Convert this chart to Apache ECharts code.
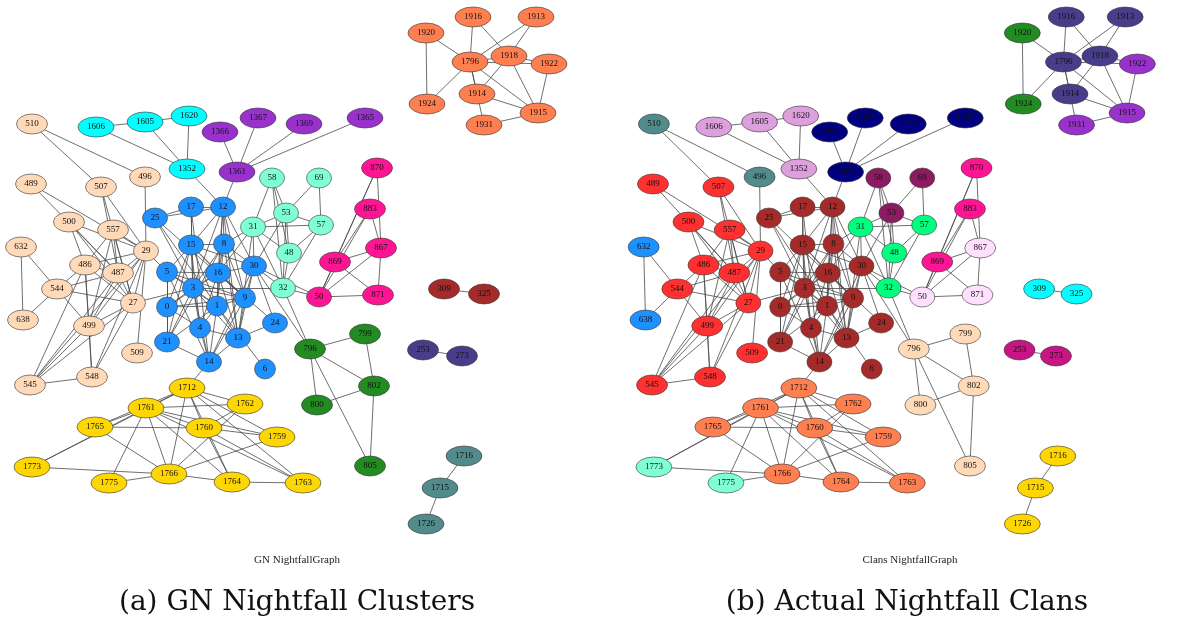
<!DOCTYPE html>
<html style="height: 100%">
<head>
<meta charset="utf-8">
</head>
<body style="height: 100%;width: 100%;margin: 0;background: #fff;">
<div id="container" style="height: 618px;width: 1185px;"></div>
<script type="text/javascript" src="https://cdn.jsdelivr.net/npm/echarts@6/dist/echarts.min.js"></script>
<script type="text/javascript">
// node ids and their layout positions (same layout in both panels)
var nodeNames = ['510', '496', '1606', '1605', '1620', '1352', '1366', '1367', '1369', '1365', '1361',
    '489', '507', '500', '557', '29', '632', '486', '487', '544', '27', '638', '499', '509', '545', '548',
    '25', '17', '12', '15', '8', '5', '16', '3', '0', '1', '9', '30', '4', '21', '14', '13', '24', '6',
    '58', '69', '53', '31', '57', '48', '32', '50', '869', '870', '883', '867', '871',
    '796', '799', '802', '800', '805', '309', '325', '253', '273', '1716', '1715', '1726',
    '1920', '1916', '1913', '1796', '1918', '1922', '1924', '1914', '1915', '1931',
    '1712', '1761', '1762', '1765', '1760', '1759', '1773', '1766', '1775', '1764', '1763'];
var nodeX = [32, 145, 96, 145, 189, 187, 220, 258, 304, 365, 237,
    31, 101, 69, 113, 146, 21, 85, 118, 57, 133, 23, 89, 137, 30, 92,
    155, 191, 223, 191, 224, 167, 218, 193, 167, 217, 245, 254, 200, 167, 209, 238, 275, 265,
    272, 319, 286, 253, 321, 289, 283, 319, 335, 377, 370, 381, 378,
    310, 365, 374, 317, 370, 444, 484, 423, 462, 464, 440, 426,
    426, 473, 536, 470, 509, 549, 427, 477, 538, 484,
    187, 146, 245, 95, 204, 277, 32, 169, 109, 232, 303];
var nodeY = [124, 177, 127, 122, 116, 169, 132, 118, 124, 118, 172,
    184, 187, 222, 230, 251, 247, 265, 273, 289, 303, 320, 326, 353, 385, 377,
    218, 207, 207, 245, 244, 272, 273, 288, 307, 306, 298, 266, 328, 342, 362, 338, 323, 369,
    178, 178, 213, 227, 225, 253, 288, 297, 262, 168, 209, 248, 295,
    349, 334, 386, 405, 466, 289, 294, 350, 356, 456, 488, 524,
    33, 17, 17, 62, 56, 64, 104, 94, 113, 125,
    388, 408, 404, 427, 428, 437, 467, 474, 483, 482, 483];

var edges = [
    ['510', '496'], ['510', '507'],
    ['1606', '1605'], ['1605', '1620'], ['1606', '1352'], ['1605', '1352'], ['1620', '1352'], ['1352', '12'],
    ['1366', '1361'], ['1367', '1361'], ['1369', '1361'], ['1365', '1361'], ['1361', '12'],
    ['496', '29'], ['489', '29'], ['489', '487'],
    ['500', '29'], ['500', '486'], ['500', '487'], ['500', '27'],
    ['507', '29'], ['507', '487'], ['507', '27'],
    ['557', '29'], ['557', '486'], ['557', '487'], ['557', '27'], ['557', '499'],
    ['29', '486'], ['29', '487'], ['29', '27'], ['29', '499'], ['29', '545'], ['29', '548'], ['29', '509'], ['29', '5'],
    ['486', '544'], ['486', '487'], ['486', '27'], ['486', '548'], ['486', '545'], ['486', '499'],
    ['487', '544'], ['487', '27'], ['487', '499'], ['487', '545'],
    ['544', '632'], ['544', '638'], ['544', '27'], ['544', '499'], ['632', '638'],
    ['27', '499'], ['27', '545'], ['27', '548'], ['27', '3'],
    ['545', '548'], ['545', '499'], ['548', '499'],
    ['25', '17'], ['25', '12'], ['25', '3'], ['25', '1'], ['25', '9'],
    ['12', '17'], ['12', '15'], ['12', '8'], ['12', '16'], ['12', '3'], ['12', '1'], ['12', '13'], ['12', '9'], ['12', '30'],
    ['17', '15'], ['17', '14'], ['17', '3'],
    ['15', '5'], ['15', '3'], ['15', '16'], ['15', '1'], ['15', '9'], ['15', '4'], ['15', '0'], ['15', '21'], ['15', '8'], ['15', '30'],
    ['8', '16'], ['8', '3'], ['8', '1'], ['8', '9'], ['8', '21'], ['8', '30'], ['8', '13'],
    ['5', '3'], ['5', '16'], ['5', '0'], ['5', '21'], ['5', '1'], ['5', '9'], ['5', '14'],
    ['16', '3'], ['16', '1'], ['16', '9'], ['16', '4'], ['16', '0'], ['16', '13'], ['16', '30'], ['16', '24'],
    ['3', '0'], ['3', '1'], ['3', '9'], ['3', '4'], ['3', '21'], ['3', '14'], ['3', '13'], ['3', '32'],
    ['0', '1'], ['0', '21'], ['0', '4'], ['0', '9'],
    ['1', '9'], ['1', '4'], ['1', '21'], ['1', '14'], ['1', '13'], ['1', '6'],
    ['9', '13'], ['9', '14'], ['9', '30'],
    ['30', '31'], ['30', '32'], ['30', '24'], ['30', '13'], ['30', '14'], ['30', '53'], ['30', '50'], ['30', '796'],
    ['4', '14'], ['4', '13'], ['21', '14'], ['14', '13'], ['13', '24'], ['13', '31'], ['14', '1712'],
    ['31', '58'], ['31', '53'], ['31', '57'], ['31', '48'], ['31', '32'], ['31', '8'], ['31', '16'],
    ['58', '53'], ['58', '48'], ['58', '32'], ['69', '53'], ['69', '57'],
    ['53', '57'], ['53', '48'], ['53', '32'], ['57', '48'], ['57', '32'], ['48', '32'],
    ['32', '50'], ['32', '796'],
    ['50', '869'], ['50', '883'], ['50', '870'], ['50', '867'], ['50', '871'],
    ['869', '867'], ['869', '871'], ['869', '883'], ['869', '870'],
    ['870', '867'], ['883', '867'], ['867', '871'],
    ['796', '799'], ['796', '802'], ['796', '800'], ['796', '805'], ['799', '802'], ['800', '802'], ['802', '805'],
    ['309', '325'], ['253', '273'], ['1716', '1715'], ['1715', '1726'],
    ['1920', '1796'], ['1920', '1924'], ['1916', '1796'], ['1916', '1918'], ['1913', '1796'], ['1913', '1918'],
    ['1796', '1918'], ['1796', '1922'], ['1796', '1924'], ['1796', '1914'], ['1796', '1915'], ['1796', '1931'],
    ['1918', '1922'], ['1918', '1914'], ['1918', '1915'], ['1922', '1915'], ['1914', '1915'], ['1931', '1915'],
    ['1712', '1761'], ['1712', '1765'], ['1712', '1773'], ['1712', '1762'], ['1712', '1760'], ['1712', '1759'],
    ['1712', '1766'], ['1712', '1764'], ['1712', '1763'],
    ['1761', '1762'], ['1761', '1765'], ['1761', '1760'], ['1761', '1759'], ['1761', '1766'], ['1761', '1775'],
    ['1761', '1764'], ['1761', '1763'], ['1761', '1773'],
    ['1765', '1760'], ['1765', '1766'], ['1762', '1760'], ['1762', '1766'],
    ['1760', '1759'], ['1760', '1763'], ['1760', '1764'], ['1759', '1766'],
    ['1773', '1766'], ['1775', '1766'], ['1766', '1764'], ['1764', '1763']
];

// GN clusters (left) and actual clans (right)
var gnClusters = [
    ['510', '496', '489', '507', '500', '557', '29', '632', '486', '487', '544', '27', '638', '499', '509', '545', '548'],
    ['1606', '1605', '1620', '1352'],
    ['1366', '1367', '1369', '1365', '1361'],
    ['25', '17', '12', '15', '8', '5', '16', '3', '0', '1', '9', '30', '4', '21', '14', '13', '24', '6'],
    ['58', '69', '53', '31', '57', '48', '32'],
    ['50', '869', '870', '883', '867', '871'],
    ['309', '325'],
    ['253', '273'],
    ['796', '799', '802', '800', '805'],
    ['1712', '1761', '1762', '1765', '1760', '1759', '1773', '1766', '1775', '1764', '1763'],
    ['1920', '1916', '1913', '1796', '1918', '1922', '1924', '1914', '1915', '1931'],
    ['1716', '1715', '1726']
];
var gnColors = ['#ffdab9', '#00ffff', '#9932cc', '#1e90ff', '#7fffd4', '#ff1493',
    '#a52a2a', '#483d8b', '#228b22', '#ffd700', '#ff7f50', '#528b8b'];

var clans = [
    ['510', '496'],
    ['1606', '1605', '1620', '1352'],
    ['1366', '1367', '1369', '1365', '1361'],
    ['489', '507', '500', '557', '29', '486', '487', '544', '27', '499', '509', '545', '548'],
    ['632', '638'],
    ['25', '17', '12', '15', '8', '5', '16', '3', '0', '1', '9', '30', '4', '21', '14', '13', '24', '6'],
    ['58', '69', '53'],
    ['31', '57', '48', '32'],
    ['870', '883', '869'],
    ['867', '50', '871'],
    ['796', '799', '802', '800', '805'],
    ['1712', '1761', '1762', '1765', '1760', '1759', '1766', '1764', '1763'],
    ['1773', '1775'],
    ['1920', '1924'],
    ['1916', '1913', '1796', '1918', '1914'],
    ['1922', '1915', '1931'],
    ['309', '325'],
    ['253', '273'],
    ['1716', '1715', '1726']
];
var clanColors = ['#528b8b', '#dda0dd', '#000080', '#ff3030', '#1e90ff', '#a52a2a', '#8b1c62',
    '#00ff7f', '#ff1493', '#ffe1ff', '#ffdab9', '#ff7f50', '#7fffd4', '#228b22', '#483d8b',
    '#9932cc', '#00ffff', '#c71585', '#ffd700'];

var panelTitles = ['GN NightfallGraph', 'Clans NightfallGraph'];
var captions = ['(a) GN Nightfall Clusters', '(b) Actual Nightfall Clans'];

var ellipse = 'path://M0,50A50,50,0,1,1,100,50A50,50,0,1,1,0,50Z';
var widthByDigits = [0, 21, 25, 31, 36];

function buildNodes(groups, colors) {
    var colorOf = {};
    groups.forEach(function (g, i) {
        g.forEach(function (n) { colorOf[n] = colors[i]; });
    });
    return nodeNames.map(function (n, i) {
        return {
            name: n,
            value: [nodeX[i], nodeY[i]],
            symbolSize: [widthByDigits[n.length], 20],
            itemStyle: { color: colorOf[n] }
        };
    });
}

var links = edges.map(function (e) { return { source: e[0], target: e[1] }; });

function graphSeries(idx, groups, colors) {
    return {
        type: 'graph',
        coordinateSystem: 'cartesian2d',
        xAxisIndex: idx,
        yAxisIndex: idx,
        symbol: ellipse,
        data: buildNodes(groups, colors),
        links: links,
        silent: true,
        lineStyle: { color: '#4a4a4a', width: 0.8, opacity: 1 },
        itemStyle: { borderColor: '#3a3a3a', borderWidth: 0.6 },
        label: {
            show: true,
            position: 'inside',
            fontSize: 9,
            fontFamily: 'Liberation Serif',
            color: '#111'
        },
        emphasis: { disabled: true }
    };
}

var dom = document.getElementById('container');
var myChart = echarts.init(dom);
var option = {
    animation: false,
    backgroundColor: '#fff',
    grid: [
        { left: 0, top: 0, width: 600, height: 618 },
        { left: 624, top: 0, width: 600, height: 618 }
    ],
    xAxis: [
        { gridIndex: 0, type: 'value', min: 0, max: 600, show: false },
        { gridIndex: 1, type: 'value', min: 0, max: 600, show: false }
    ],
    yAxis: [
        { gridIndex: 0, type: 'value', min: 0, max: 618, inverse: true, show: false },
        { gridIndex: 1, type: 'value', min: 0, max: 618, inverse: true, show: false }
    ],
    graphic: [
        { type: 'text', x: 297, y: 560, style: { text: panelTitles[0], align: 'center', verticalAlign: 'middle', font: '11px "Liberation Serif"', fill: '#222' } },
        { type: 'text', x: 910, y: 560, style: { text: panelTitles[1], align: 'center', verticalAlign: 'middle', font: '11px "Liberation Serif"', fill: '#222' } },
        { type: 'text', x: 297, y: 603, style: { text: captions[0], align: 'center', verticalAlign: 'middle', font: '28px "DejaVu Serif"', fill: '#111' } },
        { type: 'text', x: 907, y: 603, style: { text: captions[1], align: 'center', verticalAlign: 'middle', font: '28px "DejaVu Serif"', fill: '#111' } }
    ],
    series: [
        graphSeries(0, gnClusters, gnColors),
        graphSeries(1, clans, clanColors)
    ]
};
myChart.setOption(option);
window.onresize = myChart.resize;
</script>
</body>
</html>
